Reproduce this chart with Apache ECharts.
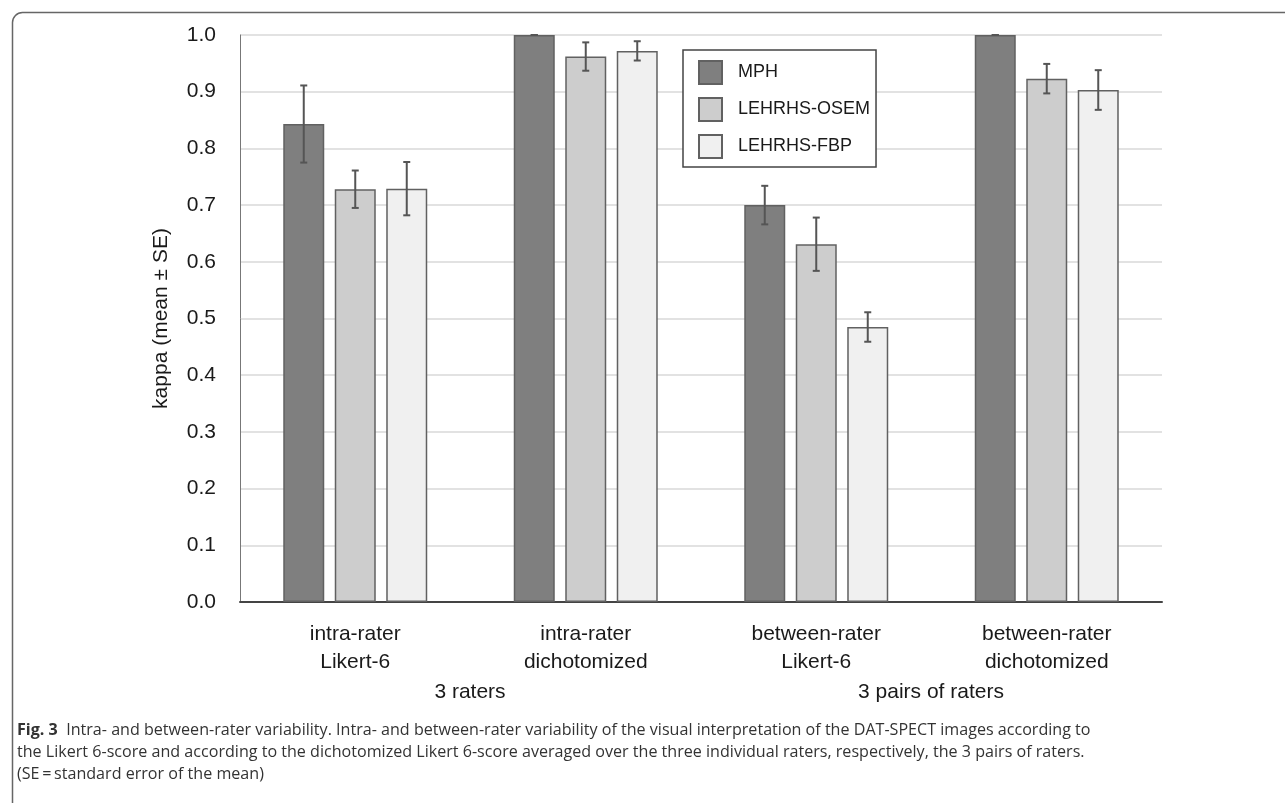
<!DOCTYPE html>
<html>
<head>
<meta charset="utf-8">
<script src="https://cdn.jsdelivr.net/npm/echarts@6/dist/echarts.min.js"></script>
<style>
html,body{margin:0;padding:0;background:#fff;}
#chart{width:1285px;height:803px;}
</style>
</head>
<body>
<div id="chart"></div>
<script>
const categories = ['intra-rater\nLikert-6', 'intra-rater\ndichotomized', 'between-rater\nLikert-6', 'between-rater\ndichotomized'];
const seriesNames = ['MPH', 'LEHRHS-OSEM', 'LEHRHS-FBP'];
const mphMean = [0.843, 1.0, 0.700, 1.0];
const mphSE = [0.068, 0.0, 0.034, 0.0];
const osemMean = [0.728, 0.962, 0.631, 0.923];
const osemSE = [0.033, 0.025, 0.047, 0.026];
const fbpMean = [0.729, 0.972, 0.485, 0.903];
const fbpSE = [0.047, 0.017, 0.026, 0.035];
const groupLabels = ['3 raters', '3 pairs of raters'];
const yTicks = [0, 0.1, 0.2, 0.3, 0.4, 0.5, 0.6, 0.7, 0.8, 0.9, 1.0];

const fills = ['#7f7f7f', '#cdcdcd', '#f0f0f0'];
const means = [mphMean, osemMean, fbpMean];
const ses = [mphSE, osemSE, fbpSE];
const BAR_W = 41, BAR_STEP = 51.5;

const chart = echarts.init(document.getElementById('chart'), null, {renderer: 'canvas'});

const barSeries = seriesNames.map((n, i) => ({
  name: n, type: 'bar', data: means[i], barWidth: BAR_W, barGap: '25.6%',
  itemStyle: {color: fills[i], borderColor: '#616161', borderWidth: 1.5},
  z: 2
}));

const errSeries = seriesNames.map((n, i) => ({
  type: 'custom', name: n + '_err', z: 5, silent: true,
  data: means[i].map((m, k) => [k, m - ses[i][k], m + ses[i][k]]),
  renderItem: function (params, api) {
    const k = api.value(0);
    const x = api.coord([k, 0])[0] + (i - 1) * BAR_STEP;
    const yl = api.coord([k, api.value(1)])[1];
    const yh = api.coord([k, api.value(2)])[1];
    const st = {stroke: '#555', lineWidth: 2};
    return {type: 'group', children: [
      {type: 'line', shape: {x1: x, y1: yl, x2: x, y2: yh}, style: st},
      {type: 'line', shape: {x1: x - 3.5, y1: yl, x2: x + 3.5, y2: yl}, style: st},
      {type: 'line', shape: {x1: x - 3.5, y1: yh, x2: x + 3.5, y2: yh}, style: st}
    ]};
  }
}));

const captionFont = '"Open Sans", "Noto Sans", sans-serif';
const legendFont = '"Liberation Sans", Arial, sans-serif';

chart.setOption({
  animation: false,
  backgroundColor: '#fff',
  textStyle: {fontFamily: '"Liberation Sans", Arial, sans-serif'},
  grid: {left: 240, right: 123, top: 35, bottom: 201, containLabel: false},
  legend: {
    data: seriesNames, orient: 'vertical', left: 683, top: 50,
    itemWidth: 23, itemHeight: 23, itemGap: 12,
    padding: [10, 6, 8, 15],
    backgroundColor: '#fff', borderColor: '#444', borderWidth: 1.5, borderRadius: 0,
    textStyle: {fontSize: 18, color: '#1a1a1a', padding: [0, 0, 0, 11], fontFamily: legendFont},
    icon: 'rect', z: 10
  },
  xAxis: {
    type: 'category', data: categories,
    axisLine: {show: true, lineStyle: {color: '#444', width: 2}},
    axisTick: {show: false},
    axisLabel: {fontSize: 21, color: '#1a1a1a', lineHeight: 28, margin: 18, interval: 0}
  },
  yAxis: {
    type: 'value', min: 0, max: 1, interval: 0.1,
    name: 'kappa (mean ± SE)', nameLocation: 'middle', nameGap: 68,
    nameTextStyle: {fontSize: 21, color: '#1a1a1a'},
    axisLine: {show: true, lineStyle: {color: '#777', width: 1}},
    axisTick: {show: false},
    axisLabel: {fontSize: 21, color: '#1a1a1a', margin: 24, formatter: v => v.toFixed(1)},
    splitLine: {lineStyle: {color: '#d9d9d9', width: 1.5}}
  },
  graphic: [
    {type: 'rect', left: 10, top: 10, shape: {width: 1300, height: 900, r: 10}, style: {fill: 'none', stroke: '#666', lineWidth: 1.5}, z: 0, silent: true},
    {type: 'text', x: 470, y: 692, style: {text: groupLabels[0], font: '21px "Liberation Sans", Arial, sans-serif', fill: '#1a1a1a', textAlign: 'center', textVerticalAlign: 'middle'}},
    {type: 'text', x: 931, y: 692, style: {text: groupLabels[1], font: '21px "Liberation Sans", Arial, sans-serif', fill: '#1a1a1a', textAlign: 'center', textVerticalAlign: 'middle'}},
    {type: 'text', x: 17, y: 719, style: {
      text: '{b|Fig. 3}  Intra- and between-rater variability. Intra- and between-rater variability of the visual interpretation of the DAT-SPECT images according to\nthe Likert 6-score and according to the dichotomized Likert 6-score averaged over the three individual raters, respectively, the 3 pairs of raters.\n(SE\u2009=\u2009standard error of the mean)',
      font: '16.1px ' + captionFont, fill: '#333', lineHeight: 22,
      rich: {b: {fontWeight: 'bold', fontSize: 16.1, fontFamily: captionFont, fill: '#333'}}
    }}
  ],
  series: [...barSeries, ...errSeries]
});
</script>
</body>
</html>
